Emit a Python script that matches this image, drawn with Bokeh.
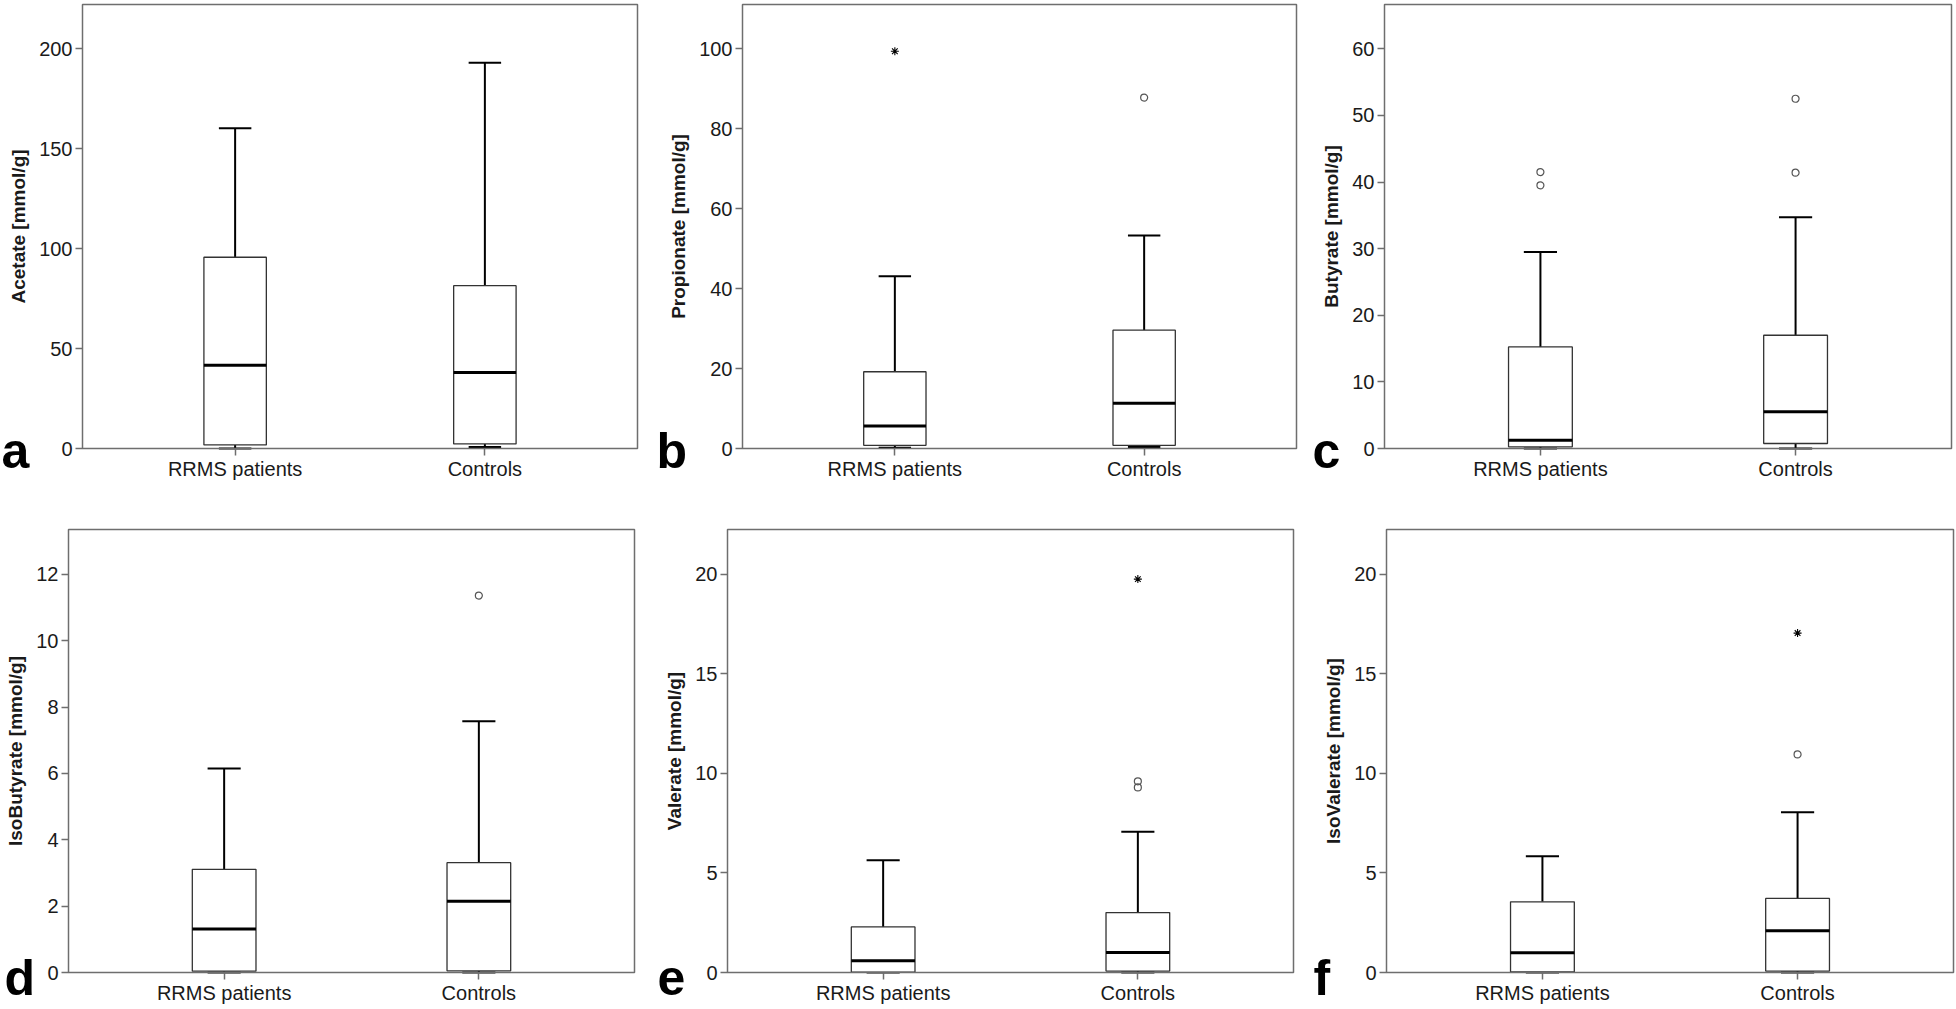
from bokeh.plotting import figure
from bokeh.layouts import row, column
from bokeh.models import Range1d, FixedTicker, Label, BoxAnnotation
from bokeh.embed import file_html
from bokeh.resources import INLINE

# ---------------- data ----------------
categories = ["RRMS patients", "Controls"]
panel_letters = ["a", "b", "c", "d", "e", "f"]
y_titles = ["Acetate [mmol/g]", "Propionate [mmol/g]", "Butyrate [mmol/g]",
            "IsoButyrate [mmol/g]", "Valerate [mmol/g]", "IsoValerate [mmol/g]"]
y_ticks = [[0, 50, 100, 150, 200], [0, 20, 40, 60, 80, 100], [0, 10, 20, 30, 40, 50, 60],
           [0, 2, 4, 6, 8, 10, 12], [0, 5, 10, 15, 20], [0, 5, 10, 15, 20]]
y_max = [222.2, 111.1, 66.65, 13.35, 22.24, 22.24]

whisker_low = [[0.0, 0.8], [0.2, 0.4], [0.0, 0.0], [0.0, 0.0], [0.0, 0.0], [0.0, 0.0]]
q1 = [[1.8, 2.3], [0.8, 0.8], [0.25, 0.75], [0.04, 0.05], [0.02, 0.07], [0.03, 0.07]]
median = [[41.7, 38.0], [5.6, 11.3], [1.25, 5.5], [1.31, 2.15], [0.59, 1.0], [0.99, 2.09]]
q3 = [[95.7, 81.5], [19.2, 29.6], [15.25, 17.0], [3.11, 3.31], [2.29, 3.01], [3.55, 3.72]]
whisker_high = [[160.3, 193.0], [43.1, 53.3], [29.5, 34.7], [6.15, 7.57], [5.64, 7.06], [5.84, 8.05]]

circle_group = [[], ["Controls"], ["RRMS patients", "RRMS patients", "Controls", "Controls"],
                ["Controls"], ["Controls", "Controls"], ["Controls"]]
circle_value = [[], [87.8], [41.5, 39.5, 52.5, 41.4], [11.36], [9.6, 9.29], [10.95]]
star_group = [[], ["RRMS patients"], [], [], ["Controls"], ["Controls"]]
star_value = [[], [99.4], [], [], [19.75], [17.04]]

# ---------------- layout (page pixels) ----------------
fig_left = [0, 645, 1305, 0, 640, 1300]
fig_right = [645, 1305, 1955, 640, 1300, 1955]
fig_top = [0, 0, 0, 500, 500, 500]
fig_bottom = [500, 500, 500, 1008, 1008, 1008]
box_left = [82, 742, 1384, 68, 727, 1386]
box_right = [637, 1296, 1951, 634, 1293, 1953]
box_top = [4, 4, 4, 529, 529, 529]
box_bottom = [448, 448, 448, 972, 972, 972]
letter_x = [1, 656, 1312, 4, 657, 1313]
letter_base = [450, 450, 450, 977, 977, 977]

X0, X1 = 0.3889, 2.6111
FRAME = "#6e6e6e"
FONT = "Liberation Sans"
BOX_W = 0.25
CAP_W = 0.13

figs = []
for i in range(6):
    sx = (box_right[i] - box_left[i]) / (X1 - X0)
    sy = (box_bottom[i] - box_top[i]) / y_max[i]
    xr = Range1d(X0 - (box_left[i] - fig_left[i]) / sx, X1 + (fig_right[i] - box_right[i]) / sx)
    yr = Range1d(-(fig_bottom[i] - box_bottom[i]) / sy, (box_bottom[i] - fig_top[i]) / sy)
    p = figure(width=fig_right[i] - fig_left[i], height=fig_bottom[i] - fig_top[i],
               output_backend="svg", toolbar_location=None, title=None,
               x_range=xr, y_range=yr, min_border=0,
               min_border_left=0, min_border_right=0, min_border_top=0, min_border_bottom=0)
    p.grid.visible = False
    p.outline_line_color = None
    p.background_fill_color = "white"
    p.border_fill_color = "white"

    xs = [1, 2]
    lo, a1, md, a3, hi = whisker_low[i], q1[i], median[i], q3[i], whisker_high[i]
    p.segment(x0=xs, x1=xs, y0=a3, y1=hi, line_color="black", line_width=2)
    p.segment(x0=xs, x1=xs, y0=lo, y1=a1, line_color="black", line_width=2)
    p.segment(x0=[x - CAP_W / 2 for x in xs], x1=[x + CAP_W / 2 for x in xs], y0=hi, y1=hi,
              line_color="black", line_width=2)
    p.segment(x0=[x - CAP_W / 2 for x in xs], x1=[x + CAP_W / 2 for x in xs], y0=lo, y1=lo,
              line_color="black", line_width=2)
    p.vbar(x=xs, width=BOX_W, bottom=a1, top=a3, fill_color="white",
           line_color="#333333", line_width=1.3)
    p.segment(x0=[x - BOX_W / 2 for x in xs], x1=[x + BOX_W / 2 for x in xs], y0=md, y1=md,
              line_color="black", line_width=3)
    if circle_value[i]:
        p.scatter(x=[categories.index(g) + 1 for g in circle_group[i]], y=circle_value[i],
                  marker="circle", size=7, fill_color=None, line_color="#555555", line_width=1.2)
    if star_value[i]:
        p.scatter(x=[categories.index(g) + 1 for g in star_group[i]], y=star_value[i],
                  marker="asterisk", size=8, line_color="black", line_width=1.1)

    # plot box (frame of the panel)
    p.add_layout(BoxAnnotation(left=X0, right=X1, bottom=0, top=y_max[i],
                               fill_color=None, fill_alpha=0,
                               line_color=FRAME, line_width=1.5, line_alpha=1))

    # x axis
    p.xaxis.fixed_location = 0
    p.xaxis.bounds = (X0, X1)
    p.xaxis.ticker = FixedTicker(ticks=[1, 2])
    p.xaxis.major_label_overrides = {1: categories[0], 2: categories[1]}
    p.xaxis.major_tick_out = 7
    p.xaxis.major_label_standoff = 2
    # y axis
    p.yaxis.fixed_location = X0
    p.yaxis.bounds = (0, y_max[i])
    p.yaxis.ticker = FixedTicker(ticks=y_ticks[i])
    p.yaxis.major_tick_out = 7
    p.yaxis.major_label_standoff = 3
    p.yaxis.axis_label = y_titles[i]
    p.yaxis.axis_label_standoff = 7
    p.yaxis.axis_label_text_font = FONT
    p.yaxis.axis_label_text_font_size = "19px"
    p.yaxis.axis_label_text_font_style = "bold"
    p.yaxis.axis_label_text_color = "#1a1a1a"
    for ax in (p.xaxis, p.yaxis):
        ax.axis_line_color = None
        ax.minor_tick_line_color = None
        ax.major_tick_in = 0
        ax.major_tick_line_color = FRAME
        ax.major_tick_line_width = 1.5
        ax.major_label_text_font = FONT
        ax.major_label_text_font_size = "20px"
        ax.major_label_text_color = "#1a1a1a"

    p.add_layout(Label(x=X0, y=0, x_units="data", y_units="data",
                       x_offset=letter_x[i] - box_left[i],
                       y_offset=box_bottom[i] - letter_base[i],
                       text=panel_letters[i], text_font=FONT, text_font_size="50px",
                       text_font_style="bold", text_color="black",
                       text_align="left", text_baseline="alphabetic"))
    figs.append(p)

layout = column(row(figs[0], figs[1], figs[2], spacing=0),
                row(figs[3], figs[4], figs[5], spacing=0), spacing=0)

open("out.html", "w").write(file_html(layout, INLINE))
